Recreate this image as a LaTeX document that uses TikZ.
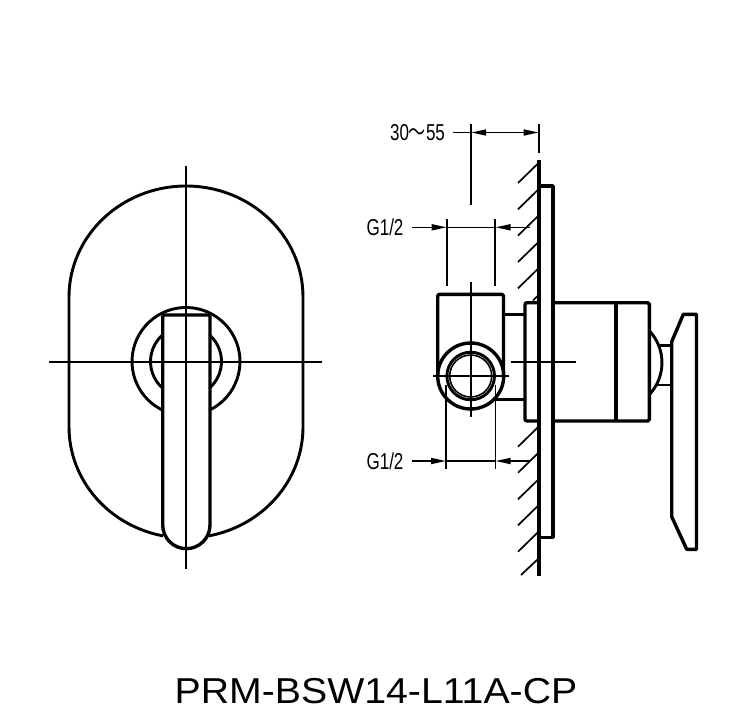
\documentclass[tikz,border=0pt]{standalone}
\usepackage{fontspec}
\setmainfont{Liberation Sans}
\newfontfamily\cjkfont{Noto Sans CJK SC}
\usetikzlibrary{arrows.meta}
\tikzset{
  thin line/.style={line width=1.6pt,black},
  mid line/.style={line width=2.9pt,black},
  heavy line/.style={line width=3.4pt,black,line join=round},
  hatch line/.style={line width=1.7pt,black},
  dim tip/.style={thin line,-{Triangle[length=15pt,width=6pt]}},
  dim both/.style={thin line,{Triangle[length=15pt,width=6pt]}-{Triangle[length=15pt,width=6pt]}},
  dim text/.style={inner sep=0pt,font=\fontsize{23}{25}\selectfont,xscale=.74,black},
}
\begin{document}
\begin{tikzpicture}[x=1pt,y=-1pt]
\useasboundingbox (0,0) rectangle (747,713);
% ---- front view ----
\draw[mid line,line join=round] (163.1,535.9) arc (101.3:180:117 and 111) -- (69,297)
  arc (180:360:117 and 111) -- (303,427) arc (0:78.7:117 and 111);
\draw[mid line] (209.5,410.1) arc (64.2:-244.2:54);
\draw[mid line] (186,361.5) ++(-48.5:35.5) arc (-48.5:48.5:35.5);
\draw[mid line] (186,361.5) ++(131.5:35.5) arc (131.5:228.5:35.5);
\draw[heavy line] (162.7,525) -- (162.7,317) arc (180:270:2) -- (208,315) arc (270:360:2) -- (210,525)
  arc (0:180:23.65);
\draw[thin line] (186,166) -- (186,569);
\draw[thin line] (49,361.7) -- (322,361.7);
% ---- wall and plate ----
\draw[heavy line] (539,160) -- (539,576);
\draw[heavy line] (539,186) -- (553,186) -- (553,537.3) -- (539,537.3);
\foreach \yy in {183,209.3,235.6,262,288.3,446.7,472.7,499.3,525.3,551.7}
  \draw[hatch line] (518,\yy) -- (538,\yy-19.5);
\draw[hatch line] (533,300.5) -- (538,295.5);
\draw[hatch line] (521,575) -- (538,559);
% ---- body and handle ----
\draw[heavy line,rounded corners=2pt] (539,302.7) -- (525,302.7) -- (525,421) -- (539,421);
\draw[heavy line,rounded corners=1.5pt] (553,302.7) -- (649.3,302.7) -- (649.3,421) -- (553,421);
\draw[heavy line] (616,302.7) -- (616,421);
\draw[mid line] (649.3,330.7) arc (-43.2:43.2:46.7);
\draw[mid line] (658.5,345.7) -- (671.7,345.7);
\draw[mid line] (656,385) -- (671.7,385);
\draw[heavy line] (671.7,341.7) -- (683.3,314.3) -- (696.5,314.3) -- (696.5,549.3) -- (686.7,549.3)
  -- (671.7,516.7) -- cycle;
% ---- valve body ----
\draw[heavy line,rounded corners=2pt] (437.7,376) -- (437.7,294.3) -- (503.5,294.3) -- (503.5,376);
\draw[heavy line] (503.5,314.3) -- (525,314.3);
\draw[heavy line] (494.5,399.3) -- (525,399.3);
\draw[heavy line] (470.7,376) circle (33);
\draw[mid line] (470.7,376) circle (23.8);
\draw[thin line] (470.7,376) circle (21);
% ---- centre lines ----
\draw[thin line] (470.7,282) -- (470.7,417);
\draw[thin line] (432.7,376) -- (509,376);
\draw[thin line] (510.7,361.7) -- (576,361.7);
% ---- dimensions ----
\node[dim text,anchor=center] (topdim) at (417.5,132.7) {30{\cjkfont ～}55};
\coordinate (topa) at (453,132.5);
\coordinate (topb) at (471.2,132.5);
\coordinate (topc) at (538.7,132.5);
\draw[thin line] (topa) -- (topb);
\draw[dim both] (topb) -- (topc);
\draw[thin line,line width=1.8pt] (470.7,124) -- (470.7,205);
\draw[thin line,line width=1.8pt] (538.7,124) -- (538.7,152.7);
\node[dim text] (upper) at (385,227.5) {G1/2};
\draw[dim tip] (412,227.3) -- (446.7,227.3);
\draw[dim tip] (530,227.3) -- (495.5,227.3);
\draw[thin line] (446.7,227.3) -- (495.5,227.3);
\draw[thin line] (446.7,219) -- (446.7,285.7);
\draw[thin line] (495,219) -- (495,285.7);
\node[dim text] (lower) at (385,461.5) {G1/2};
\draw[dim tip] (411.7,461) -- (446,461);
\draw[dim tip] (530,461) -- (495.5,461);
\draw[thin line] (446,461) -- (495.5,461);
\draw[thin line] (445.8,385) -- (445.8,469.3);
\draw[thin line] (495.3,385) -- (495.3,469.3);
% ---- title ----
\node[inner sep=0pt,font=\fontsize{36}{40}\selectfont,xscale=1.09,black] (title) at (376,691) {PRM-BSW14-L11A-CP};
\end{tikzpicture}
\end{document}
